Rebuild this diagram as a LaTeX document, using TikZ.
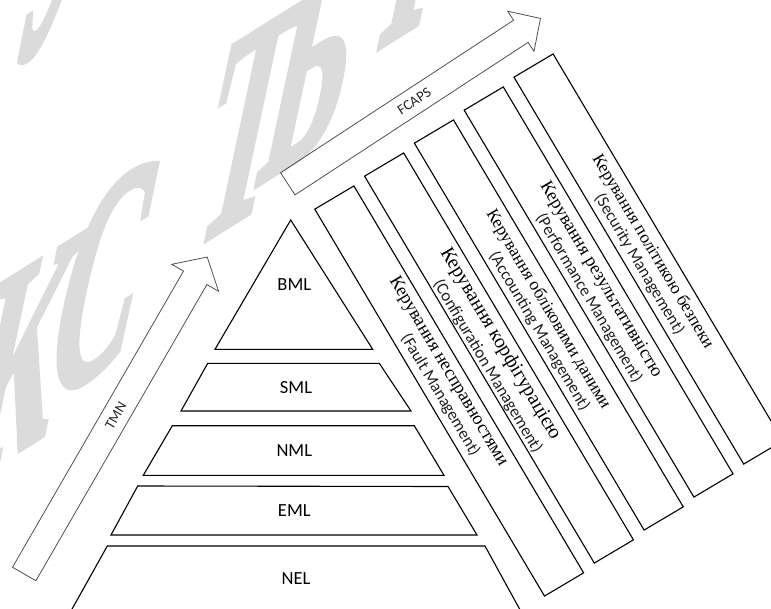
\documentclass[tikz,border=0pt]{standalone}
\usepackage{fontspec}
\setmainfont{Liberation Serif}
\newfontfamily\calib{Carlito}
\newfontfamily\wmfont[FakeBold=2.5]{Liberation Serif Bold}
\usetikzlibrary{calc}

\begin{document}
\begin{tikzpicture}[x=1pt,y=-1pt,
  frame/.style={draw=black, line width=1.1pt, line join=miter},
  arrowline/.style={draw=black!72, line width=0.75pt, line join=miter},
  layer/.style={font=\calib\fontsize{18.5}{20}\selectfont, text=black, inner sep=0pt},
  arrowtext/.style={font=\calib\fontsize{14.5}{16}\selectfont, text=black!85, inner sep=0pt},
  colbox/.style={draw=black, line width=1.1pt, rotate=-59.3,
    minimum width=450pt, minimum height=45.5pt, inner sep=0pt},
  ua/.style={rotate=-59.3, inner sep=0pt, text=black},
  en/.style={font=\calib\fontsize{16.8}{18}\selectfont, text=black!88,
    rotate=-59.3, inner sep=0pt},
  wm/.style={font=\wmfont\fontsize{200}{200}\selectfont, text=black!14, inner sep=0pt,
    cm={0.620,0.387,0.330,1.550,(0,0)}},
]
\useasboundingbox (0,0) rectangle (771,608);
\clip (0,0) rectangle (771,608);

% background watermark letters
\node[wm] (wmk) at (22,360) {К};
\node[wm] (wms) at (104,280) {С};
\node[wm] (wmt) at (250,124) {Т};
\node[wm] (wmb) at (316,60) {Б};
\node[wm] (wmu) at (70,-56) {У};
\node[wm] (wmi) at (420,-66) {І};

% TMN layer pyramid
\draw[frame] (290.7,220) -- (372.7,349.3) -- (215,349.3) -- cycle;
\draw[frame] (207.7,363.3) -- (379.3,363.3) -- (411,411) -- (181,411) -- cycle;
\draw[frame] (172.3,425.7) -- (414.3,425.7) -- (444,475.3) -- (143.3,475.3) -- cycle;
\draw[frame] (137.7,486) -- (448,486.5) -- (477,535) -- (111,535) -- cycle;
\draw[frame] (107.3,546) -- (485,546) -- (525.6,620) -- (65.9,620) -- cycle;

\node[layer] (bml) at (294.3,285) {BML};
\node[layer] (sml) at (296,387.7) {SML};
\node[layer] (nml) at (294.3,451) {NML};
\node[layer] (eml) at (294.3,511) {EML};
\node[layer] (nel) at (296,578.3) {NEL};

% hollow TMN arrow
\coordinate (tmn0) at (24.2,574);
\draw[arrowline]
  ($(tmn0)+(30:-13.5)$) -- ($(tmn0)+(-60:342)+(30:-13.5)$)
  -- ($(tmn0)+(-60:342)+(30:-27)$) -- ($(tmn0)+(-60:366)$)
  -- ($(tmn0)+(-60:342)+(30:27)$) -- ($(tmn0)+(-60:342)+(30:13.5)$)
  -- ($(tmn0)+(30:13.5)$) -- cycle;
\node[arrowtext, rotate=60] (tmn) at ($(tmn0)+(-60:183)$) {TMN};

% hollow FCAPS arrow
\coordinate (fc0) at (287.8,183.8);
\draw[arrowline]
  ($(fc0)+(56.8:-13.25)$) -- ($(fc0)+(-33.2:278.5)+(56.8:-13.25)$)
  -- ($(fc0)+(-33.2:278.5)+(56.8:-24)$) -- ($(fc0)+(-33.2:302)$)
  -- ($(fc0)+(-33.2:278.5)+(56.8:24)$) -- ($(fc0)+(-33.2:278.5)+(56.8:13.25)$)
  -- ($(fc0)+(56.8:13.25)$) -- cycle;
\node[arrowtext, rotate=33.2] (fcaps) at ($(fc0)+(-33.2:151)$) {FCAPS};

% FCAPS management columns
\coordinate (c1) at (449.2,391);
\coordinate (c2) at (499.0,358);
\coordinate (c3) at (548.8,325);
\coordinate (c4) at (598.6,292);
\coordinate (c5) at (648.4,259);
\foreach \i in {1,...,5} { \node[colbox] (col\i) at (c\i) {}; }

\node[ua, font=\fontsize{18.5}{20}\selectfont] (ua1) at ($(c1)+(59.3:-17)+(-30.7:8.9)$) {Керування несправностями};
\node[en] (en1) at ($(c1)+(59.3:-1)+(-30.7:-9.6)$) {(Fault Management)};

\node[ua, font=\fontsize{20}{22}\selectfont] (ua2) at ($(c2)+(59.3:-11.6)+(-30.7:8.3)$) {Керування корфігурацією};
\node[en] (en2) at ($(c2)+(59.3:1.4)+(-30.7:-14)$) {(Configuration Management)};

\node[ua, font=\fontsize{17.5}{20}\selectfont] (ua3) at ($(c3)+(59.3:-13.7)+(-30.7:7.3)$) {Керування обліковими даними};
\node[en] (en3) at ($(c3)+(59.3:0.5)+(-30.7:-11.3)$) {(Accounting Management)};

\node[ua, font=\fontsize{18.3}{20}\selectfont] (ua4) at ($(c4)+(59.3:-9.5)+(-30.7:7.9)$) {Керування результативністю};
\node[en] (en4) at ($(c4)+(59.3:0.4)+(-30.7:-11.4)$) {(Performance Management)};

\node[ua, font=\fontsize{17.4}{20}\selectfont] (ua5) at ($(c5)+(59.3:-4.3)+(-30.7:7.4)$) {Керування політикою безпеки};
\node[en] (en5) at ($(c5)+(59.3:-0.3)+(-30.7:-10.4)$) {(Security Management)};
\end{tikzpicture}
\end{document}
